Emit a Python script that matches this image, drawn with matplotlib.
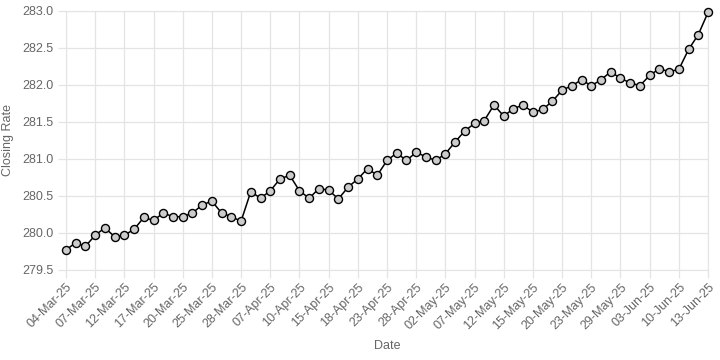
import matplotlib.pyplot as plt

# trading days (PKR closing rate), every 3rd one is labelled on the axis
dates = [
    '04-Mar-25', '05-Mar-25', '06-Mar-25', '07-Mar-25', '10-Mar-25', '11-Mar-25',
    '12-Mar-25', '13-Mar-25', '14-Mar-25', '17-Mar-25', '18-Mar-25', '19-Mar-25',
    '20-Mar-25', '21-Mar-25', '24-Mar-25', '25-Mar-25', '26-Mar-25', '27-Mar-25',
    '28-Mar-25', '03-Apr-25', '04-Apr-25', '07-Apr-25', '08-Apr-25', '09-Apr-25',
    '10-Apr-25', '11-Apr-25', '14-Apr-25', '15-Apr-25', '16-Apr-25', '17-Apr-25',
    '18-Apr-25', '21-Apr-25', '22-Apr-25', '23-Apr-25', '24-Apr-25', '25-Apr-25',
    '28-Apr-25', '29-Apr-25', '30-Apr-25', '02-May-25', '05-May-25', '06-May-25',
    '07-May-25', '08-May-25', '09-May-25', '12-May-25', '13-May-25', '14-May-25',
    '15-May-25', '16-May-25', '19-May-25', '20-May-25', '21-May-25', '22-May-25',
    '23-May-25', '26-May-25', '27-May-25', '29-May-25', '30-May-25', '02-Jun-25',
    '03-Jun-25', '04-Jun-25', '05-Jun-25', '10-Jun-25', '11-Jun-25', '12-Jun-25',
    '13-Jun-25',
]

rates = [
    279.77, 279.87, 279.82, 279.97, 280.07, 279.95,
    279.97, 280.05, 280.21, 280.17, 280.27, 280.22,
    280.22, 280.27, 280.38, 280.43, 280.27, 280.22,
    280.16, 280.56, 280.47, 280.57, 280.73, 280.78,
    280.57, 280.47, 280.60, 280.58, 280.46, 280.62,
    280.73, 280.87, 280.78, 280.98, 281.08, 280.98,
    281.09, 281.03, 280.98, 281.07, 281.23, 281.38,
    281.48, 281.52, 281.73, 281.58, 281.68, 281.73,
    281.63, 281.67, 281.78, 281.93, 281.99, 282.07,
    281.99, 282.07, 282.18, 282.09, 282.03, 281.99,
    282.13, 282.22, 282.18, 282.21, 282.48, 282.68,
    282.98,
]

yticks = [279.5, 280.0, 280.5, 281.0, 281.5, 282.0, 282.5, 283.0]

plt.rcParams['font.family'] = ['Liberation Sans', 'DejaVu Sans']

fig = plt.figure(figsize=(7.2, 3.6), dpi=100)
ax = fig.add_axes([66 / 720, 90 / 360, 642 / 720, 259 / 360])

x = list(range(len(dates)))
ax.plot(x, rates, color='black', linewidth=1.1, marker='o', markersize=5.8,
        markerfacecolor='#cccccc', markeredgecolor='black', markeredgewidth=1.0,
        zorder=3, clip_on=False)

ax.set_xlim(0, len(dates) - 1)
ax.set_ylim(279.5, 283.0)
ax.set_yticks(yticks)
ax.set_yticklabels([f'{v:.1f}' for v in yticks])
ax.set_xticks(x[::3])
ax.set_xticklabels(dates[::3], rotation=45, ha='right', rotation_mode='anchor')

grid_col = '#e4e4e4'
ax.grid(True, color=grid_col, linewidth=0.9)
ax.set_axisbelow(True)
for side in ax.spines.values():
    side.set_color(grid_col)
ax.tick_params(axis='both', colors=grid_col, labelcolor='#666666', labelsize=9,
               length=6, width=0.9)
ax.tick_params(axis='y', pad=3)
ax.tick_params(axis='x', pad=2)

ax.set_xlabel('Date', color='#666666', fontsize=9, labelpad=6)
ax.set_ylabel('Closing Rate', color='#666666', fontsize=9, labelpad=6)

fig.savefig('out.png', dpi=100)
